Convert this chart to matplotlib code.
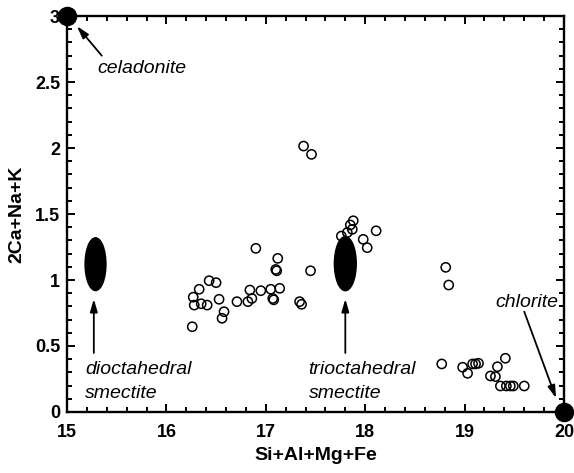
import matplotlib
matplotlib.use("Agg")
import matplotlib.pyplot as plt
from matplotlib.patches import Ellipse
from matplotlib.ticker import MultipleLocator

# Measured clay compositions (open circles)
x_vals = [
    16.90, 17.12, 17.10, 17.11, 16.43, 16.50, 16.33, 16.27, 16.28, 16.35,
    16.41, 16.53, 16.58, 16.56, 16.26, 16.71, 16.82, 16.86, 16.84, 16.95,
    17.05, 17.14, 17.07, 17.08, 17.34, 17.36, 17.45,
    17.38, 17.46,
    17.88, 17.85, 17.87, 17.82, 17.76, 17.98, 18.02, 18.11,
    18.81, 18.84, 18.77, 18.98, 19.03, 19.08, 19.11, 19.14, 19.33, 19.41,
    19.26, 19.31, 19.36, 19.42, 19.46, 19.49, 19.60,
]
y_vals = [
    1.24, 1.164, 1.08, 1.07, 0.995, 0.98, 0.93, 0.87, 0.81, 0.82,
    0.81, 0.854, 0.76, 0.71, 0.646, 0.836, 0.836, 0.86, 0.924, 0.919,
    0.93, 0.937, 0.86, 0.85, 0.836, 0.816, 1.07,
    2.015, 1.952,
    1.449, 1.417, 1.384, 1.36, 1.333, 1.308, 1.245, 1.373,
    1.096, 0.962, 0.364, 0.339, 0.293, 0.364, 0.364, 0.369, 0.343, 0.407,
    0.273, 0.268, 0.197, 0.197, 0.197, 0.197, 0.197,
]

# End-member compositions
end_x = [15.0, 20.0]
end_y = [3.0, 0.0]

# Smectite fields (centre x, centre y, width, height)
smectite_fields = [
    (15.287, 1.12, 0.21, 0.40),
    (17.80, 1.124, 0.22, 0.41),
]

plt.rcParams['font.family'] = ['Liberation Sans', 'DejaVu Sans']

fig = plt.figure(figsize=(5.74, 4.73), dpi=100)
ax = fig.add_axes([0.1167, 0.129, 0.8659, 0.837])

ax.scatter(x_vals, y_vals, s=44, facecolors='none', edgecolors='black',
           linewidths=1.1, zorder=3)

for cx, cy, w, h in smectite_fields:
    ax.add_patch(Ellipse((cx, cy), w, h, facecolor='black',
                         edgecolor='black', zorder=4))

ax.scatter(end_x, end_y, s=170, color='black', zorder=6, clip_on=False)

ax.set_xlim(15, 20)
ax.set_ylim(0, 3)
ax.xaxis.set_major_locator(MultipleLocator(1))
ax.xaxis.set_minor_locator(MultipleLocator(0.2))
ax.yaxis.set_major_locator(MultipleLocator(0.5))
ax.yaxis.set_minor_locator(MultipleLocator(0.1))
ax.set_yticks([0, 0.5, 1, 1.5, 2, 2.5, 3])
ax.set_yticklabels(['0', '0.5', '1', '1.5', '2', '2.5', '3'])

for side in ax.spines.values():
    side.set_linewidth(1.7)

ax.tick_params(which='both', direction='in', top=True, right=True,
               width=1.4, labelsize=13)
ax.tick_params(which='major', length=6)
ax.tick_params(which='minor', length=3.5)
ax.tick_params(axis='x', which='major', pad=9)
ax.tick_params(axis='y', which='major', pad=5)
for lab in ax.get_xticklabels() + ax.get_yticklabels():
    lab.set_fontweight('bold')

ax.set_xlabel('Si+Al+Mg+Fe', fontsize=14, fontweight='bold', labelpad=4)
ax.set_ylabel('2Ca+Na+K', fontsize=14, fontweight='bold', labelpad=7)

arrow = dict(arrowstyle='-|>,head_width=0.22,head_length=0.75',
             color='black', lw=1.3, shrinkA=0, shrinkB=0)
note_font = dict(fontsize=14, fontstyle='italic')

ax.annotate('', xy=(15.10, 2.924), xytext=(15.35, 2.70), arrowprops=arrow)
ax.text(15.31, 2.606, 'celadonite', va='center', ha='left', **note_font)

ax.annotate('', xy=(15.27, 0.856), xytext=(15.27, 0.447), arrowprops=arrow)
ax.text(15.18, 0.233, 'dioctahedral\nsmectite', va='center', ha='left',
        linespacing=1.55, **note_font)

ax.annotate('', xy=(17.80, 0.856), xytext=(17.80, 0.447), arrowprops=arrow)
ax.text(17.43, 0.233, 'trioctahedral\nsmectite', va='center', ha='left',
        linespacing=1.55, **note_font)

ax.annotate('', xy=(19.92, 0.104), xytext=(19.60, 0.76), arrowprops=arrow,
            zorder=5)
ax.text(19.31, 0.826, 'chlorite', va='center', ha='left', zorder=5,
        **note_font)

fig.savefig('out.png', dpi=100)
